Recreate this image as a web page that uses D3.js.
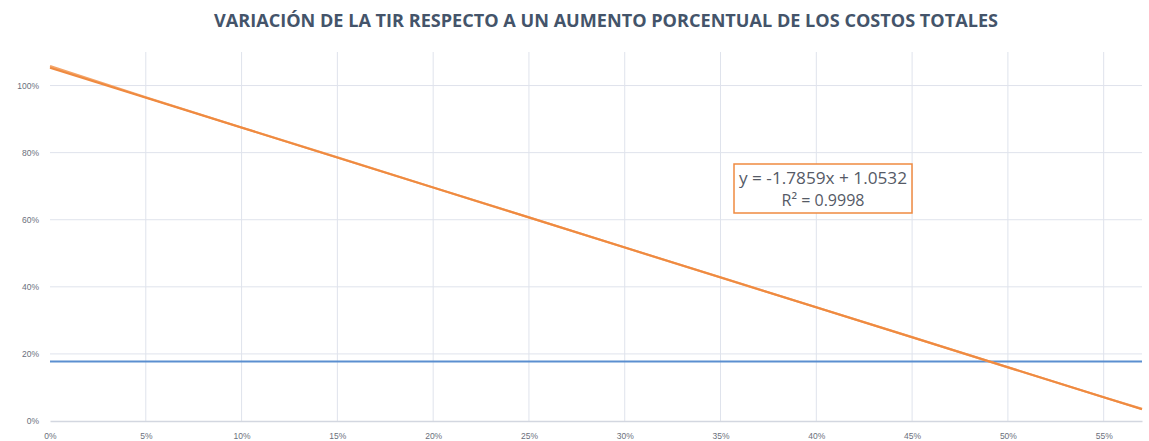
<!DOCTYPE html>
<html>
<head>
<meta charset="utf-8">
<script src="https://cdn.jsdelivr.net/npm/d3@7"></script>
<style>
  body { margin: 0; background: #fff; }
  svg { display: block; font-family: "Open Sans", "Liberation Sans", sans-serif; }
</style>
</head>
<body>
<svg id="chart"></svg>
<script>
/**
 * Global variables
 */
var w = 1149;
var h = 441;
var margin = { top: 52, right: 7, bottom: 20, left: 50 };

var title = "VARIACIÓN DE LA TIR RESPECTO A UN AUMENTO PORCENTUAL DE LOS COSTOS TOTALES";

// increase in total costs (x) and resulting TIR (y)
var costIncrease = [0, 0.05, 0.10, 0.15, 0.20, 0.25, 0.30, 0.35, 0.40, 0.45, 0.50, 0.55, 0.57];
var tirValues = [1.058, 0.965, 0.875, 0.786, 0.696, 0.607, 0.517, 0.428, 0.339, 0.250, 0.160, 0.071, 0.036];

// TMAR reference line
var tmar = 0.177;

// trend line coefficients (as shown in the label)
var slope = -1.7859;
var intercept = 1.0532;
var r2 = 0.9998;

var xTicks = [0, 0.05, 0.10, 0.15, 0.20, 0.25, 0.30, 0.35, 0.40, 0.45, 0.50, 0.55];
var yTicks = [0, 0.2, 0.4, 0.6, 0.8, 1.0];

var svg = d3.select("#chart").attr("width", w).attr("height", h);

var width = w - margin.left - margin.right;
var height = h - margin.top - margin.bottom;

var g = svg.append("g")
    .attr("transform", "translate(" + margin.left + "," + margin.top + ")");

// X scale
var x = d3.scaleLinear()
    .domain([0, 0.57])
    .range([0, width]);

// Y scale
var y = d3.scaleLinear()
    .domain([0, 1.1])
    .range([height, 0]);

var pct = d3.format(".0%");

// Grid lines
g.append("g").selectAll("line.v")
    .data(xTicks.slice(1))
    .enter().append("line")
    .attr("x1", function(d) { return x(d); })
    .attr("x2", function(d) { return x(d); })
    .attr("y1", 0)
    .attr("y2", height)
    .attr("stroke", "#dfe3ec")
    .attr("stroke-width", 1);

g.append("g").selectAll("line.h")
    .data(yTicks.slice(1))
    .enter().append("line")
    .attr("x1", 0)
    .attr("x2", width)
    .attr("y1", function(d) { return y(d); })
    .attr("y2", function(d) { return y(d); })
    .attr("stroke", "#dfe3ec")
    .attr("stroke-width", 1);

// X-axis
var xAxis = g.append("g")
    .attr("transform", "translate(0," + height + ")")
    .call(d3.axisBottom(x).tickValues(xTicks).tickFormat(pct).tickSize(0).tickPadding(12));
xAxis.select(".domain").attr("stroke", "#d3d7e0").attr("stroke-width", 1.5);
xAxis.selectAll("text").attr("fill", "#6b707c").style("font-size", "8.5px");

// Y-axis
var yAxis = g.append("g")
    .call(d3.axisLeft(y).tickValues(yTicks).tickFormat(pct).tickSize(0).tickPadding(11));
yAxis.select(".domain").remove();
yAxis.selectAll("text").attr("fill", "#6b707c").style("font-size", "8.5px");

// TMAR line
g.append("line")
    .attr("x1", 0)
    .attr("x2", width)
    .attr("y1", y(tmar))
    .attr("y2", y(tmar))
    .attr("stroke", "#5b8fd0")
    .attr("stroke-width", 2);

// Data series
var line = d3.line()
    .x(function(d) { return x(d[0]); })
    .y(function(d) { return y(d[1]); });

g.append("path")
    .datum(d3.zip(costIncrease, tirValues))
    .attr("fill", "none")
    .attr("stroke", "#f4a468")
    .attr("stroke-width", 2.2)
    .attr("d", line);

// Linear trend line
var xEnds = [0, 0.57];
g.append("path")
    .datum(xEnds.map(function(v) { return [v, slope * v + intercept]; }))
    .attr("fill", "none")
    .attr("stroke", "#ef8a40")
    .attr("stroke-width", 2)
    .attr("d", line);

// Equation label
var box = svg.append("g").attr("transform", "translate(823,0)");
box.append("rect")
    .attr("x", -89)
    .attr("y", 164)
    .attr("width", 178)
    .attr("height", 49)
    .attr("fill", "#fff")
    .attr("stroke", "#ef8a40")
    .attr("stroke-width", 1.5);
box.append("text")
    .attr("text-anchor", "middle")
    .attr("y", 184)
    .attr("fill", "#555a66")
    .attr("textLength", 168)
    .attr("lengthAdjust", "spacingAndGlyphs")
    .style("font-size", "16px")
    .text("y = " + slope + "x + " + intercept);
box.append("text")
    .attr("text-anchor", "middle")
    .attr("y", 206)
    .attr("fill", "#555a66")
    .style("font-size", "16px")
    .text("R² = " + r2);

// Title
svg.append("text")
    .attr("x", 606)
    .attr("y", 27)
    .attr("text-anchor", "middle")
    .attr("fill", "#44546a")
    .attr("textLength", 784)
    .attr("lengthAdjust", "spacingAndGlyphs")
    .style("font-size", "17px")
    .style("font-weight", "bold")
    .text(title);
</script>
</body>
</html>
